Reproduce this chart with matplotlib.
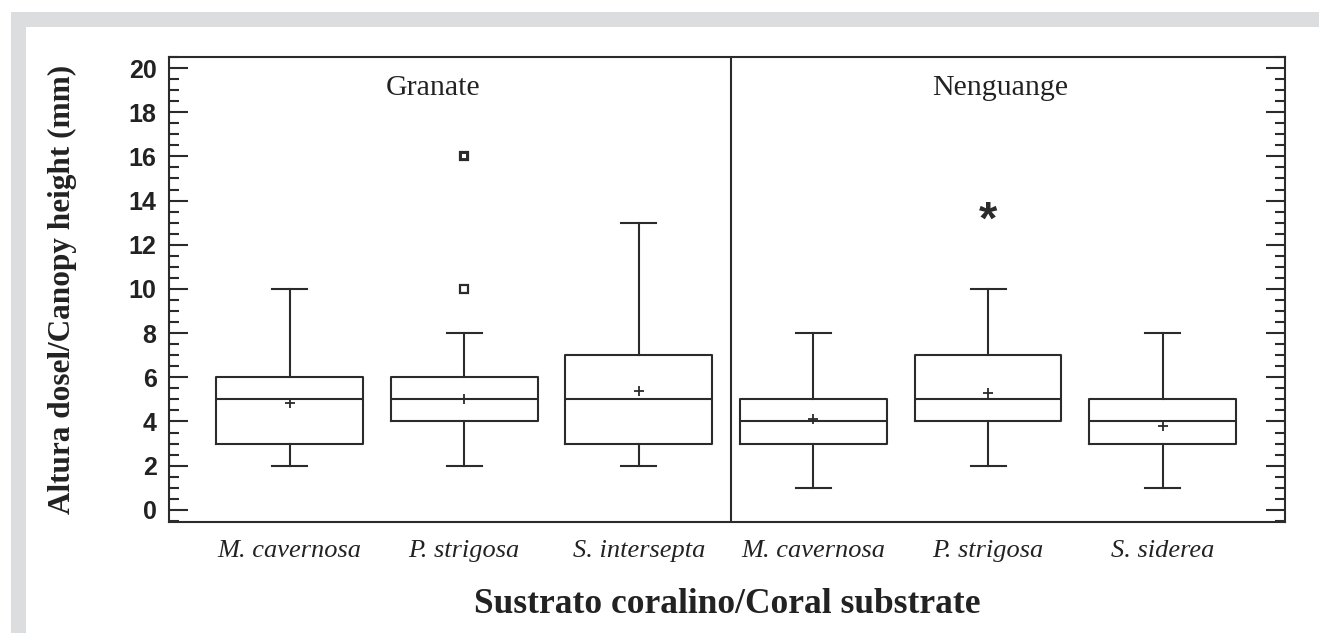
import matplotlib.pyplot as plt
from matplotlib.patches import Rectangle
from matplotlib.ticker import MultipleLocator

species = ["M. cavernosa", "P. strigosa", "S. intersepta",
           "M. cavernosa", "P. strigosa", "S. siderea"]
sites = ["Granate", "Nenguange"]

whislo = [2, 2, 2, 1, 2, 1]
q1 = [3, 4, 3, 3, 4, 3]
med = [5, 5, 5, 4, 5, 4]
q3 = [6, 6, 7, 5, 7, 5]
whishi = [10, 8, 13, 8, 10, 8]
means = [4.85, 5.0, 5.4, 4.1, 5.3, 3.8]
outliers = [[], [10, 16], [], [], [], []]
far_out = [[], [], [], [], [13.5], []]

LINE = "#2b2b2b"
SERIF = "Liberation Serif"
SANS = "Liberation Sans"

fig = plt.figure(figsize=(13.19, 6.33), dpi=100)
W, H = 1319, 633
# grey frame with white panel
fig.add_artist(Rectangle((11 / W, 0), 1, 1 - 12 / H, transform=fig.transFigure,
                         facecolor="#dcdddf", edgecolor="none", zorder=-10))
fig.add_artist(Rectangle((26 / W, 0), 1, 1 - 27 / H, transform=fig.transFigure,
                         facecolor="white", edgecolor="none", zorder=-9))

ax = fig.add_axes([169 / W, 1 - 522 / H, (1285 - 169) / W, (522 - 57) / H])
ax.set_facecolor("white")

pos = list(range(1, len(species) + 1))
stats = []
for i in range(len(species)):
    stats.append(dict(whislo=whislo[i], q1=q1[i], med=med[i], q3=q3[i],
                      whishi=whishi[i], mean=means[i], fliers=outliers[i]))

lp = dict(color=LINE, linewidth=1.5)
ax.bxp(stats, positions=pos, widths=0.84, capwidths=0.2, showmeans=True,
       boxprops=lp, whiskerprops=lp, capprops=lp, medianprops=lp,
       meanprops=dict(marker="+", markeredgecolor=LINE, markersize=7, markeredgewidth=1.3),
       flierprops=dict(marker="s", markerfacecolor="none", markeredgecolor=LINE,
                       markersize=6, markeredgewidth=1.6))

# the 16 mm point is drawn heavier in the original (overlapping values)
ax.plot([2], [16], marker="s", markerfacecolor="none", markeredgecolor=LINE,
        markersize=4, markeredgewidth=1.4)

# far outlier drawn as asterisk
for i, vals in enumerate(far_out):
    for v in vals:
        ax.text(pos[i], v - 0.45, "*", ha="center", va="center", fontsize=34,
                fontweight="bold", family=SANS, color=LINE)

ax.axvline(3.53, color=LINE, lw=1.5)
ax.text(1.82, 19.1, sites[0], ha="center", va="center", fontsize=21.5, family=SERIF, color="#222")
ax.text(5.07, 19.1, sites[1], ha="center", va="center", fontsize=21.5, family=SERIF, color="#222")

ax.set_xlim(0.31, 6.7)
ax.set_ylim(-0.55, 20.5)
ax.set_xticks(pos)
ax.set_xticklabels(species, fontsize=19, family=SERIF, style="italic", color="#222")
ax.tick_params(axis="x", length=0, pad=13)

ax.yaxis.set_major_locator(MultipleLocator(2))
ax.yaxis.set_minor_locator(MultipleLocator(0.5))
ax.tick_params(axis="y", which="both", direction="in", left=True, right=True,
               color=LINE, width=1.5)
ax.tick_params(axis="y", which="major", length=14, pad=9, labelsize=18)
ax.tick_params(axis="y", which="minor", length=7)
for lab in ax.get_yticklabels():
    lab.set_family(SANS)
    lab.set_fontweight("bold")
    lab.set_color("#222")

for s in ax.spines.values():
    s.set_color(LINE)
    s.set_linewidth(1.5)

ax.set_xlabel("Sustrato coralino/Coral substrate", fontsize=25.5, family=SERIF,
              fontweight="bold", color="#222", labelpad=19)
ax.set_ylabel("Altura dosel/Canopy height (mm)", fontsize=22.5, family=SERIF,
              fontweight="bold", color="#222", labelpad=37)

fig.savefig("out.png", dpi=100)
